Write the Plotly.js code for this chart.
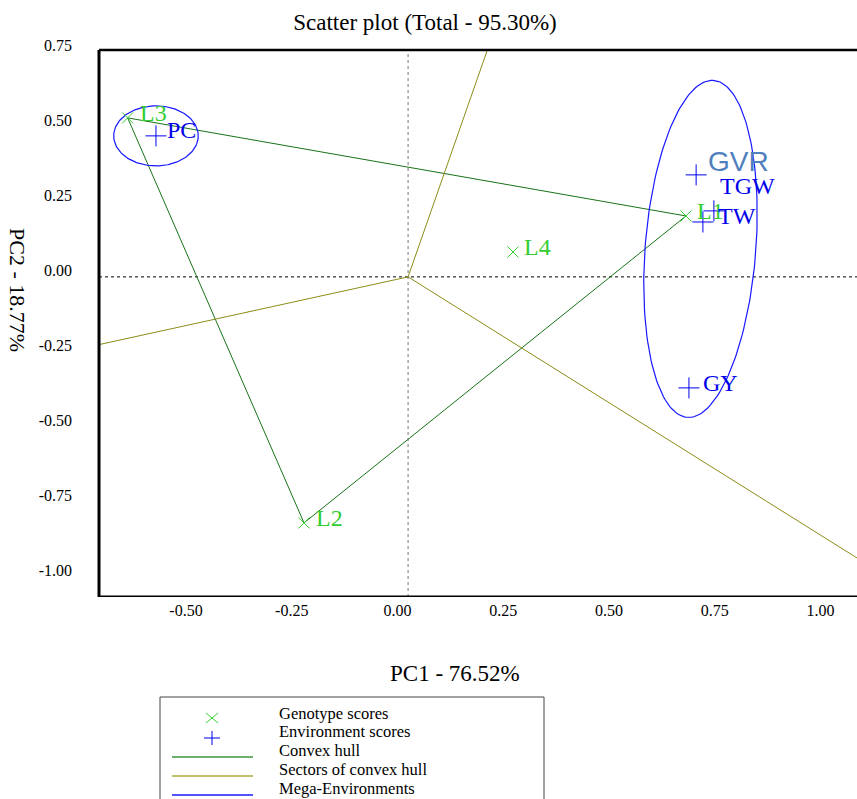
<!DOCTYPE html>
<html><head><meta charset="utf-8">
<script src="https://cdn.plot.ly/plotly-3.0.1.min.js"></script>
<style>html,body{margin:0;padding:0;background:#fff;}#chart{width:857px;height:799px;}</style>
</head><body><div id="chart"></div>
<script>
// ---------------- data ----------------
const genotypeNames = ['L1', 'L2', 'L3', 'L4'];
const genotypePC1 = [0.682, -0.221, -0.638, 0.273];
const genotypePC2 = [0.180, -0.843, 0.507, 0.060];

const environmentNames = ['GVR', 'TGW', 'TW', 'GY', 'PC'];
const environmentPC1 = [0.706, 0.748, 0.722, 0.689, -0.571];
const environmentPC2 = [0.317, 0.197, 0.160, -0.393, 0.447];

const hullVertices = ['L3', 'L1', 'L2'];
const biplotOrigin = [0.025, -0.023];

const megaEnvMembers = [['PC'], ['GVR', 'TGW', 'TW', 'GY']];
const megaEnvSemiMajor = [0.100, 0.5625];
const megaEnvSemiMinor = [0.100, 0.131];
const megaEnvTiltDeg = [0, 3];

const xTickVals = [-0.5, -0.25, 0, 0.25, 0.5, 0.75, 1.0];
const xTickText = ['-0.50', '-0.25', '0.00', '0.25', '0.50', '0.75', '1.00'];
const yTickVals = [-1, -0.75, -0.5, -0.25, 0, 0.25, 0.5, 0.75];
const yTickText = ['-1.00', '-0.75', '-0.50', '-0.25', '0.00', '0.25', '0.50', '0.75'];

const titleText = 'Scatter plot (Total - 95.30%)';
const xTitleText = 'PC1 - 76.52%';
const yTitleText = 'PC2 - 18.77%';
const legendLabels = ['Genotype scores', 'Environment scores', 'Convex hull', 'Sectors of convex hull', 'Mega-Environments'];

// ---------------- style / layout ----------------
const SERIF = 'Liberation Serif, Times New Roman, serif';
const SANS = 'Liberation Sans, Arial, sans-serif';
const GEN_COLOR = 'rgb(50,205,50)';
const ENV_COLOR = 'rgb(0,0,235)';
const HULL_COLOR = 'rgb(25,115,25)';
const SECTOR_COLOR = 'rgb(140,140,25)';
const ELLIPSE_COLOR = 'rgb(25,25,255)';

const X_MIN = -0.7057, X_MAX = 1.0863;
const Y_MIN = -1.09, Y_FRAME_TOP = 0.7333, Y_MAX = 0.7833;

const labelShift = {
  L1: [9, 5], L2: [10, 5], L3: [10, 5], L4: [9, 5],
  GVR: [10, 13], TGW: [4, 25], TW: [13, 6], GY: [12, 5], PC: [9, 6]
};

// pixel -> paper helpers (plot area 99..857 x, 35..597 y)
const PL = 99, PW = 758, PB = 597, PH = 562;
const px = v => (v - PL) / PW;
const py = v => (PB - v) / PH;

// ---------------- geometry derived from data ----------------
const genIndex = {};
genotypeNames.forEach((n, i) => genIndex[n] = i);
const envIndex = {};
environmentNames.forEach((n, i) => envIndex[n] = i);

const traces = [];

// convex hull
const hx = [], hy = [];
hullVertices.concat([hullVertices[0]]).forEach(n => {
  hx.push(genotypePC1[genIndex[n]]);
  hy.push(genotypePC2[genIndex[n]]);
});
traces.push({type: 'scatter', mode: 'lines', x: hx, y: hy,
  line: {color: HULL_COLOR, width: 1}, hoverinfo: 'skip', showlegend: false});

// sector rays: perpendicular from origin to each hull edge, clipped to frame
function clipRay(ox, oy, dx, dy) {
  const ts = [];
  if (dx > 0) ts.push((X_MAX - ox) / dx);
  if (dx < 0) ts.push((X_MIN - ox) / dx);
  if (dy > 0) ts.push((Y_FRAME_TOP - oy) / dy);
  if (dy < 0) ts.push((Y_MIN - oy) / dy);
  const t = Math.min.apply(null, ts);
  return [ox + t * dx, oy + t * dy];
}
for (let i = 0; i < hullVertices.length; i++) {
  const a = genIndex[hullVertices[i]], b = genIndex[hullVertices[(i + 1) % hullVertices.length]];
  const ax = genotypePC1[a], ay = genotypePC2[a], bx = genotypePC1[b], by = genotypePC2[b];
  let nx = by - ay, ny = -(bx - ax);
  const mx = (ax + bx) / 2 - biplotOrigin[0], my = (ay + by) / 2 - biplotOrigin[1];
  if (nx * mx + ny * my < 0) { nx = -nx; ny = -ny; }
  const end = clipRay(biplotOrigin[0], biplotOrigin[1], nx, ny);
  traces.push({type: 'scatter', mode: 'lines', x: [biplotOrigin[0], end[0]], y: [biplotOrigin[1], end[1]],
    line: {color: SECTOR_COLOR, width: 1}, hoverinfo: 'skip', showlegend: false});
}

// mega-environment ellipses
megaEnvMembers.forEach((members, k) => {
  let cx = 0, cy = 0;
  members.forEach(n => { cx += environmentPC1[envIndex[n]]; cy += environmentPC2[envIndex[n]]; });
  cx /= members.length; cy /= members.length;
  const th = megaEnvTiltDeg[k] * Math.PI / 180;
  const ux = Math.sin(th), uy = Math.cos(th), vx = Math.cos(th), vy = -Math.sin(th);
  const ex = [], ey = [];
  for (let j = 0; j <= 180; j++) {
    const t = 2 * Math.PI * j / 180;
    const a = megaEnvSemiMajor[k] * Math.cos(t), b = megaEnvSemiMinor[k] * Math.sin(t);
    ex.push(cx + a * ux + b * vx);
    ey.push(cy + a * uy + b * vy);
  }
  traces.push({type: 'scatter', mode: 'lines', x: ex, y: ey,
    line: {color: ELLIPSE_COLOR, width: 1.2}, hoverinfo: 'skip', showlegend: false});
});

// markers
traces.push({type: 'scatter', mode: 'markers', x: genotypePC1, y: genotypePC2, text: genotypeNames,
  marker: {symbol: 'x-thin', size: 11, line: {color: GEN_COLOR, width: 1}}, showlegend: false});
traces.push({type: 'scatter', mode: 'markers', x: environmentPC1, y: environmentPC2, text: environmentNames,
  marker: {symbol: 'cross-thin', size: 15, line: {color: ENV_COLOR, width: 1}}, showlegend: false});

// ---------------- annotations ----------------
const annotations = [];
genotypeNames.forEach((n, i) => {
  annotations.push({xref: 'x', yref: 'y', x: genotypePC1[i], y: genotypePC2[i], text: n,
    showarrow: false, xanchor: 'left', yanchor: 'middle',
    xshift: labelShift[n][0], yshift: labelShift[n][1],
    font: {family: SERIF, size: 24, color: GEN_COLOR}});
});
environmentNames.forEach((n, i) => {
  const special = n === 'GVR';
  annotations.push({xref: 'x', yref: 'y', x: environmentPC1[i], y: environmentPC2[i], text: n,
    showarrow: false, xanchor: 'left', yanchor: 'middle',
    xshift: labelShift[n][0], yshift: labelShift[n][1],
    font: special ? {family: SANS, size: 28, color: 'rgb(80,128,190)'} : {family: SERIF, size: 24, color: ENV_COLOR}});
});
// axis titles
annotations.push({xref: 'paper', yref: 'paper', x: px(455), y: py(673), text: xTitleText, showarrow: false,
  xanchor: 'center', yanchor: 'middle', font: {family: SERIF, size: 23, color: '#000'}});
annotations.push({xref: 'paper', yref: 'paper', x: px(18), y: py(290), text: yTitleText, showarrow: false,
  textangle: 90, xanchor: 'center', yanchor: 'middle', font: {family: SERIF, size: 22, color: '#000'}});
// legend texts
const legendRowY = [713, 731, 750, 769, 788];
legendLabels.forEach((t, i) => {
  annotations.push({xref: 'paper', yref: 'paper', x: px(277), y: py(legendRowY[i]), text: t, showarrow: false,
    xanchor: 'left', yanchor: 'middle', font: {family: SERIF, size: 16.5, color: '#000'}});
});

// ---------------- shapes ----------------
const shapes = [];
// dotted origin lines
shapes.push({type: 'line', xref: 'x', yref: 'y', x0: biplotOrigin[0], x1: biplotOrigin[0], y0: Y_MIN, y1: Y_FRAME_TOP,
  layer: 'below', line: {color: '#777', width: 1, dash: 'dot'}});
shapes.push({type: 'line', xref: 'paper', yref: 'y', x0: 0, x1: 1, y0: biplotOrigin[1], y1: biplotOrigin[1],
  layer: 'below', line: {color: '#000', width: 1, dash: 'dot'}});
// frame
shapes.push({type: 'line', xref: 'paper', yref: 'y', x0: 0, x1: 0, y0: Y_MIN, y1: Y_FRAME_TOP, line: {color: '#000', width: 3}});
shapes.push({type: 'line', xref: 'paper', yref: 'y', x0: 0, x1: 1, y0: Y_FRAME_TOP, y1: Y_FRAME_TOP, line: {color: '#000', width: 2.5}});
shapes.push({type: 'line', xref: 'paper', yref: 'y', x0: 0, x1: 1, y0: Y_MIN, y1: Y_MIN, line: {color: '#000', width: 3}});
// legend box
shapes.push({type: 'rect', xref: 'paper', yref: 'paper', x0: px(160), x1: px(544), y0: py(697), y1: py(810),
  line: {color: '#444', width: 1}, fillcolor: 'rgba(0,0,0,0)'});
// legend glyphs
shapes.push({type: 'path', xref: 'paper', yref: 'paper', xsizemode: 'pixel', ysizemode: 'pixel',
  xanchor: px(212), yanchor: py(718), path: 'M -6 -5 L 6 5 M -6 5 L 6 -5', line: {color: GEN_COLOR, width: 1}});
shapes.push({type: 'path', xref: 'paper', yref: 'paper', xsizemode: 'pixel', ysizemode: 'pixel',
  xanchor: px(212), yanchor: py(738), path: 'M -8 0 L 8 0 M 0 -7 L 0 7', line: {color: ENV_COLOR, width: 1}});
const legendLineColors = ['rgb(60,150,60)', 'rgb(170,170,60)', ELLIPSE_COLOR];
const legendLineY = [757, 776, 795];
legendLineColors.forEach((c, i) => {
  shapes.push({type: 'line', xref: 'paper', yref: 'paper', x0: px(172), x1: px(253), y0: py(legendLineY[i]), y1: py(legendLineY[i]),
    line: {color: c, width: 1.5}});
});

// ---------------- layout ----------------
const layout = {
  width: 857, height: 799,
  margin: {l: PL, r: 0, t: 35, b: 799 - PB, pad: 0},
  paper_bgcolor: '#fff', plot_bgcolor: '#fff',
  showlegend: false,
  title: {text: titleText, x: 425 / 857, xanchor: 'center', xref: 'container', y: 1 - 22 / 799, yanchor: 'middle', yref: 'container',
    font: {family: SERIF, size: 23, color: '#000'}},
  xaxis: {range: [X_MIN, X_MAX], tickvals: xTickVals, ticktext: xTickText, showgrid: false, zeroline: false,
    showline: false, ticks: '', ticklabelstandoff: 2, tickfont: {family: SERIF, size: 16, color: '#000'}, fixedrange: true},
  yaxis: {range: [Y_MIN, Y_MAX], tickvals: yTickVals, ticktext: yTickText, showgrid: false, zeroline: false,
    showline: false, ticks: '', ticklabelstandoff: 26, tickfont: {family: SERIF, size: 16, color: '#000'}, fixedrange: true},
  annotations: annotations,
  shapes: shapes
};

Plotly.newPlot('chart', traces, layout, {displayModeBar: false, staticPlot: true});
</script>
</body></html>
